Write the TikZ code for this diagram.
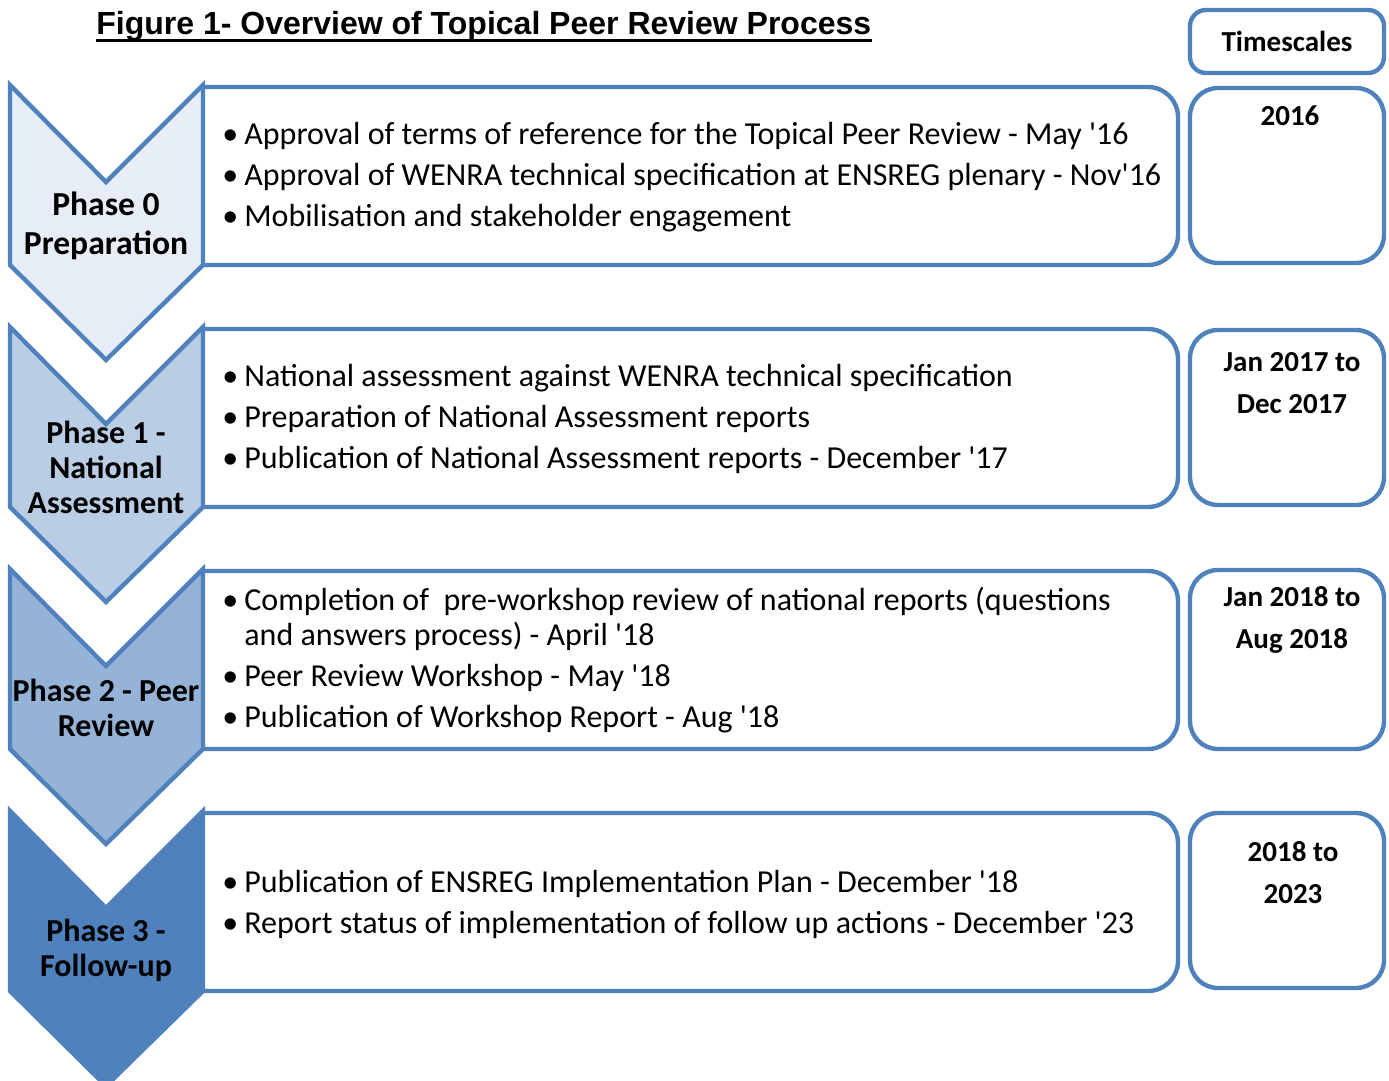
\documentclass[tikz,border=0pt]{standalone}
\usepackage{fontspec}
\setmainfont{Carlito}
\newfontfamily\titlefont{Liberation Sans}
\usepackage{tikz}
\usetikzlibrary{positioning}
\definecolor{tprline}{RGB}{79,129,189}
\definecolor{tprzero}{RGB}{231,237,246}
\definecolor{tprone}{RGB}{185,205,229}
\definecolor{tprtwo}{RGB}{149,179,215}
\definecolor{tprthree}{RGB}{79,129,189}
\newcommand{\tprbullet}{\makebox[11pt][l]{\textbullet}}
\newcommand{\q}{\textquotesingle}
\tikzset{
  chevron/.style={draw=tprline, line width=2.2pt, line join=miter},
  stepbox/.style={draw=tprline, line width=2.2pt, fill=white, rounded corners=15pt},
  timebox/.style={draw=tprline, line width=2.2pt, fill=white, rounded corners=14pt},
  itemtext/.style={anchor=west, inner sep=0pt, font=\fontsize{16}{19.5}\selectfont, text height=11pt, text depth=3.5pt},
  phaselabel/.style={align=center, inner sep=0pt, font=\bfseries\fontsize{16}{17.5}\selectfont},
  timelabel/.style={align=center, inner sep=0pt, font=\bfseries\fontsize{14.5}{21}\selectfont},
  figtitle/.style={anchor=base west, inner sep=0pt, font=\titlefont\bfseries\fontsize{16}{18}\selectfont}
}
\begin{document}
\begin{tikzpicture}[x=0.5pt,y=-0.5pt]
  \useasboundingbox[fill=white] (0,0) rectangle (1389,1081);
  % title
  \node[figtitle] (title) at (96,35) {Figure 1- Overview of Topical Peer Review Process};
  \draw[line width=1.5pt] ([yshift=-3pt]title.base west) -- ([yshift=-3pt]title.base east);
  % timescales header
  \draw[timebox, rounded corners=8pt] (1190,10) rectangle (1384,73);
  \node[timelabel] (timehead) at (1287,41) {Timescales};
  % content boxes
  \draw[stepbox] (203,87) -- (1178,87) -- (1178,265) -- (203,265);
  \draw[stepbox] (203,329) -- (1178,329) -- (1178,507) -- (203,507);
  \draw[stepbox] (203,571) -- (1178,571) -- (1178,749) -- (203,749);
  \draw[stepbox] (203,813) -- (1178,813) -- (1178,991) -- (203,991);
  % timescale boxes
  \draw[timebox] (1190,88) rectangle (1384,263);
  \draw[timebox] (1190,330) rectangle (1384,505);
  \draw[timebox] (1190,570) rectangle (1384,749);
  \draw[timebox] (1190,813) rectangle (1384,988);
  % chevrons
  \draw[chevron, fill=tprzero] (10,85) -- (106,182) -- (203,85) -- (203,265) -- (106,360) -- (10,265) -- cycle;
  \draw[chevron, fill=tprone] (10,327) -- (106,424) -- (203,327) -- (203,507) -- (106,602) -- (10,507) -- cycle;
  \draw[chevron, fill=tprtwo] (10,569) -- (106,666) -- (203,569) -- (203,749) -- (106,844) -- (10,749) -- cycle;
  \draw[chevron, fill=tprthree] (10,811) -- (106,908) -- (203,811) -- (203,991) -- (106,1086) -- (10,991) -- cycle;
  % phase labels
  \node[phaselabel, font=\bfseries\fontsize{16.8}{19.5}\selectfont] (phase0) at (106,226) {Phase 0\\Preparation};
  \node[phaselabel] (phase1) at (106,467) {Phase 1 -\\National\\Assessment};
  \node[phaselabel] (phase2) at (106,708) {Phase 2 - Peer\\Review};
  \node[phaselabel] (phase3) at (106,950) {Phase 3 -\\Follow-up};
  % phase 0 items
  \node[itemtext] (item0a) at (222,137) {\tprbullet Approval of terms of reference for the Topical Peer Review - May \q16};
  \node[itemtext] (item0b) at (222,178) {\tprbullet Approval of WENRA technical specification at ENSREG plenary - Nov\q16};
  \node[itemtext] (item0c) at (222,219) {\tprbullet Mobilisation and stakeholder engagement};
  % phase 1 items
  \node[itemtext] (item1a) at (222,379) {\tprbullet National assessment against WENRA technical specification};
  \node[itemtext] (item1b) at (222,420) {\tprbullet Preparation of National Assessment reports};
  \node[itemtext] (item1c) at (222,461) {\tprbullet Publication of National Assessment reports - December \q17};
  % phase 2 items
  \node[itemtext] (item2a) at (222,603) {\tprbullet Completion of\ \ pre-workshop review of national reports (questions};
  \node[itemtext] (item2w) at (244,638) {and answers process) - April \q18};
  \node[itemtext] (item2b) at (222,679) {\tprbullet Peer Review Workshop - May \q18};
  \node[itemtext] (item2c) at (222,720) {\tprbullet Publication of Workshop Report - Aug \q18};
  % phase 3 items
  \node[itemtext] (item3a) at (222,885) {\tprbullet Publication of ENSREG Implementation Plan - December \q18};
  \node[itemtext] (item3b) at (222,926) {\tprbullet Report status of implementation of follow up actions - December \q23};
  % timescales
  \node[timelabel] (time0) at (1290,116) {2016};
  \node[timelabel] (time1) at (1292,383) {Jan 2017 to\\Dec 2017};
  \node[timelabel] (time2) at (1292,620) {Jan 2018 to\\Aug 2018};
  \node[timelabel] (time3) at (1293,873) {2018 to\\2023};
\end{tikzpicture}
\end{document}
